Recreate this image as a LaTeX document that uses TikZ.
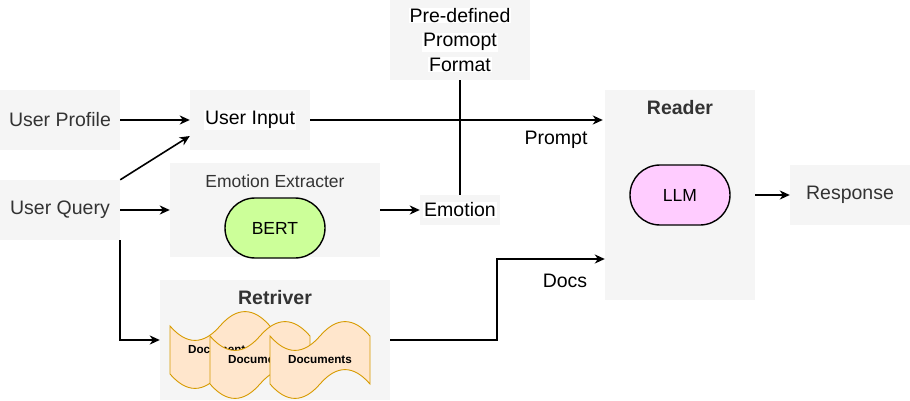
\documentclass[tikz,border=0pt]{standalone}
\usepackage{fontspec}
\setmainfont{Liberation Sans}
\usetikzlibrary{arrows.meta,shapes.misc}
\definecolor{boxgray}{HTML}{F5F5F5}
\definecolor{txtgray}{HTML}{333333}
\definecolor{bertgreen}{HTML}{CCFF99}
\definecolor{llmpink}{HTML}{FFCCFF}
\definecolor{docfill}{HTML}{FFE6CC}
\definecolor{docline}{HTML}{D79B00}
\newcommand{\bigtxt}{\fontsize{19.5}{23.5}\selectfont}
\newcommand{\midtxt}{\fontsize{17.5}{21}\selectfont}
\newcommand{\smalltxt}{\fontsize{11.7}{14}\selectfont}
\newcommand{\wbg}[1]{{\setlength{\fboxsep}{0.8pt}\colorbox{white}{#1}}}
\tikzset{
  grayboxstyle/.style={fill=boxgray, draw=none, inner sep=0pt, font=\bigtxt, text=txtgray},
  containerstyle/.style={fill=boxgray, draw=none, inner sep=0pt},
  titlestyle/.style={inner sep=0pt, font=\bigtxt\bfseries, text=txtgray},
  pillstyle/.style={draw=black, line width=1.4pt, rounded rectangle, rounded rectangle arc length=180,
    inner sep=0pt, minimum width=100pt, minimum height=60pt, font=\midtxt, text=black},
  lbl/.style={inner sep=0pt, font=\bigtxt, text=black},
  conn/.style={line width=1.6pt, draw=black, -{Stealth[length=10pt,width=9pt,inset=3pt]}},
  plainline/.style={line width=1.6pt, draw=black},
  docstyle/.style={fill=docfill, draw=docline, line width=0.9pt},
  doctext/.style={inner sep=0pt, font=\smalltxt\bfseries, text=black},
  tapedoc/.pic={
    \draw[docstyle] (0,16) .. controls (16.67,35.2) and (33.33,35.2) .. (50,16)
      .. controls (66.67,-3.2) and (83.33,-3.2) .. (100,16)
      -- (100,64)
      .. controls (83.33,44.8) and (66.67,44.8) .. (50,64)
      .. controls (33.33,83.2) and (16.67,83.2) .. (0,64) -- cycle;
    \node[doctext] (-t) at (50,40) {Documents};
  }
}
\begin{document}
\begin{tikzpicture}[x=1pt, y=-1pt]
\useasboundingbox (0,0) rectangle (910,401);

% simple boxes
\node[grayboxstyle, minimum width=120pt, minimum height=60pt] (up) at (60,120) {User Profile};
\node[grayboxstyle, minimum width=120pt, minimum height=60pt, text=black] (ui) at (250,120) {\wbg{User Input}};
\node[grayboxstyle, minimum width=120pt, minimum height=60pt] (uq) at (60,210) {User Query};
\node[grayboxstyle, minimum width=140pt, minimum height=80pt, text=black, align=center] (pdf) at (460,40)
  {\wbg{Pre-defined}\\[1pt]\wbg{Promopt}\\[1pt]\wbg{Format}};
\node[grayboxstyle, minimum width=80pt, minimum height=30pt, text=black] (emo) at (460,210) {\wbg{Emotion}};
\node[grayboxstyle, minimum width=120pt, minimum height=60pt] (resp) at (850,195) {Response};

% Emotion extracter container
\node[containerstyle, minimum width=210pt, minimum height=94pt] (ee) at (275,210) {};
\node[inner sep=0pt, font=\midtxt, text=txtgray] (eet) at (275,181) {Emotion Extracter};
\node[pillstyle, fill=bertgreen] (bert) at (275,228) {BERT};

% Reader container
\node[containerstyle, minimum width=150pt, minimum height=210pt] (reader) at (680,195) {};
\node[titlestyle] (readert) at (680,108) {Reader};
\node[pillstyle, fill=llmpink] (llm) at (680,195) {LLM};

% Retriver container
\node[containerstyle, minimum width=230pt, minimum height=120pt] (ret) at (275,340) {};
\node[titlestyle] (rett) at (275,298) {Retriver};
\pic (d1) at (170,310) {tapedoc};
\pic (d2) at (210,320) {tapedoc};
\pic (d3) at (270,320) {tapedoc};

% connectors
\draw[conn] (up.east) -- (ui.west);
\draw[conn] (uq.north east) -- ([yshift=-16pt]ui.west);
\draw[conn] (uq.east) -- (ee.west);
\draw[conn] (uq.south east) -- (uq.south east |- ret.west) -- (ret.west);
\draw[conn] (ee.east) -- (emo.west);
\draw[conn] (ui.east) -- ([xshift=-2pt]ui.east -| reader.west);
\draw[plainline] (pdf.south) -- (emo.north);
\coordinate (dk) at (497,259);
\draw[conn] (ret.east) -| (dk) -- (dk -| reader.west);
\draw[conn] (reader.east) -- (resp.west);

% labels
\node[lbl] (prompt) at (556,140) {Prompt};
\node[lbl] (docs) at (565,281) {Docs};
\end{tikzpicture}
\end{document}
